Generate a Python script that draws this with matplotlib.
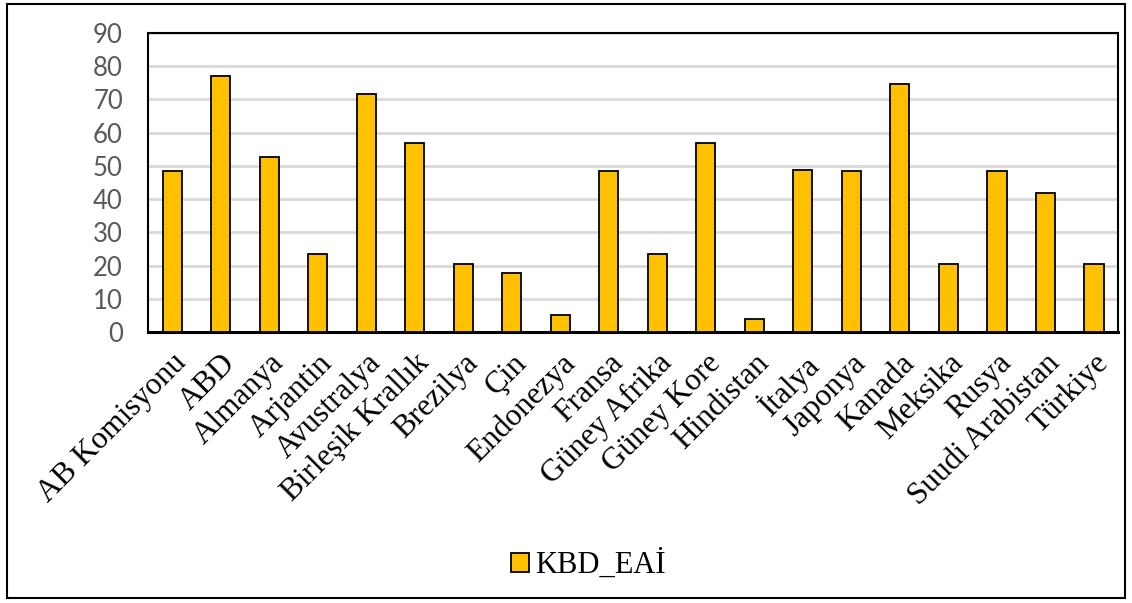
import matplotlib.pyplot as plt
import numpy as np
from matplotlib.patches import Rectangle

## country names and KBD_EAİ scores
countries = ["AB Komisyonu", "ABD", "Almanya", "Arjantin", "Avustralya",
             "Birleşik Krallık", "Brezilya", "Çin", "Endonezya", "Fransa",
             "Güney Afrika", "Güney Kore", "Hindistan", "İtalya", "Japonya",
             "Kanada", "Meksika", "Rusya", "Suudi Arabistan", "Türkiye"]
kbd_eai = [48.6, 77.0, 52.8, 23.6, 71.5, 56.8, 20.5, 17.9, 5.2, 48.6,
           23.6, 56.8, 4.0, 48.8, 48.6, 74.7, 20.5, 48.6, 41.8, 20.5]
series_name = "KBD_EAİ"
y_ticks = [0, 10, 20, 30, 40, 50, 60, 70, 80, 90]

fig = plt.figure(figsize=(11.32, 6.03), dpi=100)
ax = fig.add_axes([0.1307, 0.4494, 0.857, 0.4959])

x = np.arange(len(countries))
ax.bar(x, kbd_eai, width=0.4, color="#FFC000", edgecolor="black",
       linewidth=1.3, label=series_name, zorder=3)

ax.set_xlim(-0.5, len(countries) - 0.5)
ax.set_ylim(0, 90)
ax.set_yticks(y_ticks)
ax.set_yticklabels([str(v) for v in y_ticks], fontfamily="Lato",
                   fontsize=18.5, color="#595959")
ax.set_xticks(x)
ax.set_xticklabels(countries, rotation=45, ha="right", va="top",
                   rotation_mode="anchor", fontfamily="Liberation Serif",
                   fontsize=22.5)
ax.tick_params(axis="both", length=0)
ax.tick_params(axis="y", pad=18)
ax.tick_params(axis="x", pad=12)
ax.yaxis.grid(True, color="#D9D9D9", linewidth=2, zorder=0)
for s in ax.spines.values():
    s.set_color("black")
    s.set_linewidth(1.5)
ax.spines["bottom"].set_linewidth(2.2)

leg = fig.legend(loc="center", bbox_to_anchor=(0.52, 0.063), frameon=False,
                 prop={"family": "Liberation Serif", "size": 22},
                 handlelength=0.6, handleheight=0.6, handletextpad=0.2)

## border round the whole chart
fig.patches.append(Rectangle((0.006, 0.008), 0.988, 0.985,
                             transform=fig.transFigure, fill=False,
                             edgecolor="black", linewidth=1.5))

fig.savefig("out.png", dpi=100)
